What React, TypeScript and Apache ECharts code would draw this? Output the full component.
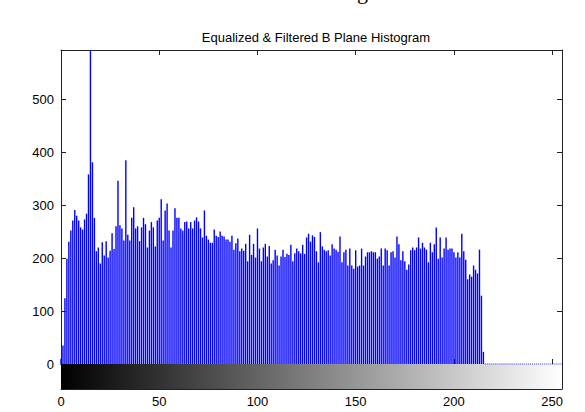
import React, { useEffect, useRef } from "react";
import * as echarts from "echarts";

const titleText = "Equalized & Filtered B Plane Histogram";

// Histogram counts for intensity bins 0..255
const counts: number[] = [
  10, 35, 124, 199, 231, 252, 271, 291, 280, 271,
  258, 254, 273, 284, 358, 593, 381, 276, 213, 220,
  190, 230, 205, 232, 201, 214, 247, 217, 260, 346,
  262, 256, 233, 385, 244, 233, 276, 296, 256, 260,
  232, 258, 276, 264, 220, 252, 268, 258, 222, 271,
  276, 311, 233, 290, 303, 252, 220, 252, 294, 276,
  276, 256, 252, 268, 269, 256, 268, 256, 271, 277,
  269, 256, 239, 290, 242, 235, 229, 229, 254, 242,
  240, 250, 242, 241, 235, 235, 231, 242, 216, 228,
  237, 213, 218, 214, 227, 194, 244, 206, 227, 201,
  256, 218, 194, 220, 227, 203, 223, 190, 196, 216,
  205, 186, 203, 216, 202, 208, 206, 225, 194, 209,
  218, 213, 209, 225, 208, 239, 246, 231, 243, 240,
  213, 192, 249, 222, 216, 213, 215, 205, 226, 218,
  216, 212, 241, 192, 211, 216, 186, 218, 186, 180,
  215, 184, 186, 218, 186, 203, 211, 211, 213, 211,
  211, 199, 203, 218, 186, 218, 215, 186, 211, 213,
  201, 241, 226, 196, 213, 194, 178, 188, 215, 220,
  215, 220, 239, 218, 229, 220, 216, 192, 229, 211,
  226, 258, 199, 239, 201, 218, 239, 216, 218, 218,
  211, 201, 211, 201, 246, 213, 197, 160, 169, 165,
  186, 178, 171, 216, 129, 23, 0, 0, 0, 0,
  0, 0, 0, 0, 0, 0, 0, 0, 0, 0,
  0, 0, 0, 0, 0, 0, 0, 0, 0, 0,
  0, 0, 0, 0, 0, 0, 0, 0, 0, 0,
  0, 0, 0, 0, 0, 0,
];

const xMin = 0;
const xMax = 255;
const xInterval = 50;
const yMax = 593;
const yInterval = 100;
const colorbarRange = [0, 255];

const FONT = "'Liberation Sans', Arial, Helvetica, sans-serif";
const LINE = "#222";
const STEM = "#0000ff";

export default function App() {
  const ref = useRef<HTMLDivElement>(null);

  useEffect(() => {
    if (!ref.current) return;
    const chart = echarts.init(ref.current, undefined, { renderer: "svg" });

    const boxAxisLine = { show: true, onZero: false, lineStyle: { color: LINE, width: 1 } };
    const tick = { show: true, inside: true, length: 5, lineStyle: { color: LINE, width: 1 } };

    const xBase = (gridIndex: number, position: string, labels: boolean) => ({
      type: "value",
      gridIndex,
      position,
      min: xMin,
      max: xMax,
      interval: xInterval,
      axisLine: boxAxisLine,
      axisTick: tick,
      splitLine: { show: false },
      axisLabel: labels
        ? { show: true, showMaxLabel: false, color: "#000", fontSize: 13, fontFamily: FONT, margin: 6 }
        : { show: false },
    });

    const option: any = {
      animation: false,
      backgroundColor: "#fff",
      title: {
        text: titleText,
        left: 311,
        top: 26,
        textAlign: "center",
        textStyle: { fontSize: 13, fontWeight: "normal", color: "#000", fontFamily: FONT },
      },
      graphic: [
        {
          type: "text",
          left: 357,
          top: -20,
          style: { text: "g", fontSize: 22, fontFamily: "'Liberation Serif', 'Times New Roman', serif", fill: "#000" },
        },
      ],
      grid: [
        { left: 61, top: 50, width: 501, height: 314 },
        { left: 61, top: 364, width: 501, height: 25 },
      ],
      xAxis: [
        xBase(0, "bottom", false),
        xBase(0, "top", false),
        xBase(1, "bottom", true),
        xBase(1, "top", false),
      ],
      yAxis: [
        {
          type: "value",
          gridIndex: 0,
          position: "left",
          min: 0,
          max: yMax,
          interval: yInterval,
          axisLine: boxAxisLine,
          axisTick: tick,
          splitLine: { show: false },
          axisLabel: { show: true, showMaxLabel: false, color: "#000", fontSize: 13, fontFamily: FONT, margin: 7 },
        },
        {
          type: "value",
          gridIndex: 0,
          position: "right",
          min: 0,
          max: yMax,
          interval: yInterval,
          axisLine: boxAxisLine,
          axisTick: tick,
          splitLine: { show: false },
          axisLabel: { show: false },
        },
        {
          type: "value",
          gridIndex: 1,
          position: "left",
          min: 0,
          max: 1,
          interval: 0.5,
          axisLine: boxAxisLine,
          axisTick: { show: false },
          splitLine: { show: false },
          axisLabel: { show: false },
        },
        {
          type: "value",
          gridIndex: 1,
          position: "right",
          min: 0,
          max: 1,
          interval: 0.5,
          axisLine: boxAxisLine,
          axisTick: tick,
          splitLine: { show: false },
          axisLabel: { show: false },
        },
      ],
      series: [
        {
          type: "custom",
          xAxisIndex: 2,
          yAxisIndex: 2,
          silent: true,
          data: [[colorbarRange[0], colorbarRange[1]]],
          renderItem: (params: any, api: any) => {
            const p0 = api.coord([api.value(0), 1]);
            const p1 = api.coord([api.value(1), 0]);
            return {
              type: "rect",
              shape: { x: p0[0], y: p0[1], width: p1[0] - p0[0], height: p1[1] - p0[1] },
              style: {
                fill: new echarts.graphic.LinearGradient(0, 0, 1, 0, [
                  { offset: 0, color: "#000000" },
                  { offset: 1, color: "#ffffff" },
                ]),
              },
            };
          },
          z: 1,
        },
        {
          type: "custom",
          xAxisIndex: 0,
          yAxisIndex: 0,
          silent: true,
          data: counts.map((c, i) => [i, c]).filter((d) => d[1] > 0),
          renderItem: (params: any, api: any) => {
            const base = api.coord([api.value(0), 0]);
            const top = api.coord([api.value(0), api.value(1)]);
            return {
              type: "line",
              shape: { x1: base[0], y1: base[1], x2: top[0], y2: top[1] },
              style: { stroke: STEM, lineWidth: 1.4 },
            };
          },
          z: 2,
        },
        {
          type: "scatter",
          xAxisIndex: 0,
          yAxisIndex: 0,
          symbol: "rect",
          symbolSize: [1, 1],
          data: counts.map((c, i) => [i, c]).filter((d) => d[1] === 0),
          itemStyle: { color: STEM },
          silent: true,
          z: 3,
        },
      ],
    };

    chart.setOption(option);
    return () => chart.dispose();
  }, []);

  return (
    <div
      ref={ref}
      style={{ position: "fixed", left: 0, top: 0, width: 585, height: 412, background: "#fff" }}
    />
  );
}
